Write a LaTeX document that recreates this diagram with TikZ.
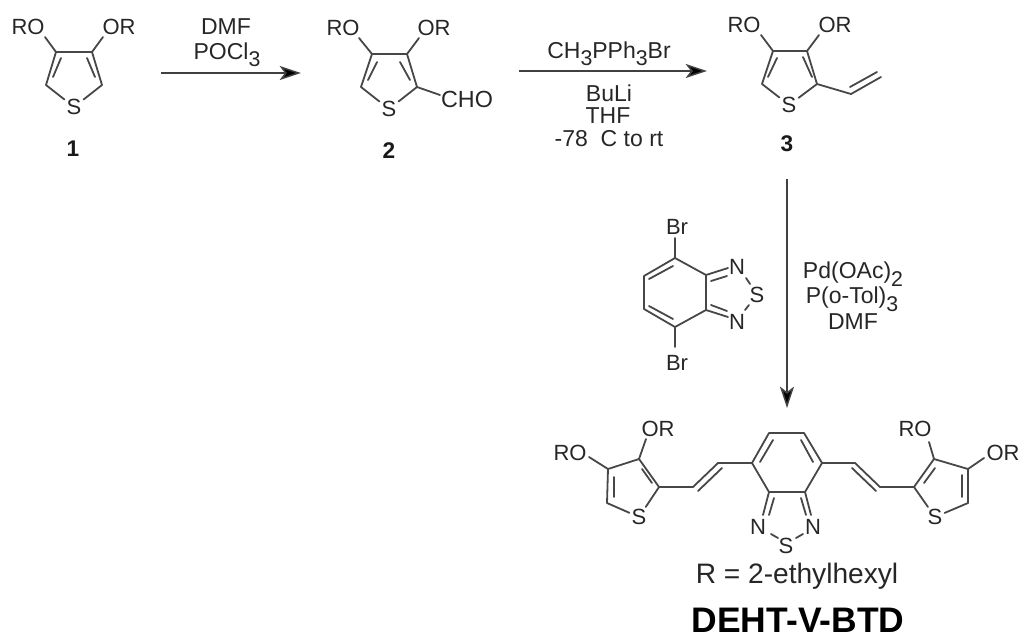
\documentclass[tikz,border=0pt]{standalone}
\usepackage{fontspec}
\setmainfont{Liberation Sans}
\usetikzlibrary{arrows.meta}
\newcommand{\subs}[1]{\smash{\raisebox{-0.32em}{\fontsize{16}{16}\selectfont #1}}}
\tikzset{
  bond/.style={draw=black!72,line width=1.35pt,line cap=round,line join=round},
  rxn/.style={draw=black!75,line width=1.15pt,-{Stealth[length=16pt,width=10.5pt,inset=4pt,fill=black]}},
  atom/.style={font=\fontsize{16.5}{18}\selectfont,text=black!85,inner sep=1.5pt},
  chogroup/.style={font=\fontsize{17.5}{18}\selectfont,text=black!85,inner sep=1.5pt},
  reagent/.style={font=\fontsize{17.25}{18}\selectfont,text=black!85,inner sep=0pt},
  cmpd/.style={font=\fontsize{17}{20}\selectfont\bfseries,text=black!90,inner sep=0pt},
  rdef/.style={font=\fontsize{21.1}{24}\selectfont,text=black!85,inner sep=0pt},
  title/.style={font=\fontsize{26.6}{30}\selectfont\bfseries,text=black,inner sep=0pt},
}
\begin{document}
\begin{tikzpicture}[x=0.75pt,y=-0.75pt]
\useasboundingbox (0,0) rectangle (1024,640);
% ---------- compound 1
\node[atom] (aRO) at (28,27) {RO};
\node[atom] (aOR) at (119,27) {OR};
\node[atom] (aS) at (74,107) {S};
\node[cmpd] (aL) at (73,149) {1};
\coordinate (a4) at (56,52); \coordinate (a3) at (92,52);
\coordinate (a5) at (46,85); \coordinate (a2) at (102,85);
\coordinate (aROb) at (45,37); \coordinate (aORb) at (103,37);
\coordinate (ai1) at (61,58); \coordinate (ai2) at (53,77);
\coordinate (ai3) at (87,58); \coordinate (ai4) at (95,77);
\draw[bond] (aROb) -- (a4) -- (a3) -- (aORb);
\draw[bond] (a4) -- (a5) -- (aS);
\draw[bond] (a3) -- (a2) -- (aS);
\draw[bond] (ai1) -- (ai2);
\draw[bond] (ai3) -- (ai4);
% arrow 1
\node[reagent] (r1a) at (226,27) {DMF};
\node[reagent] (r1b) at (227,51) {POCl\subs{3}};
\coordinate (w1s) at (161,73); \coordinate (w1e) at (301,73);
\draw[rxn] (w1s) -- (w1e);
% ---------- compound 2
\node[atom] (bRO) at (343,28) {RO};
\node[atom] (bOR) at (434,28) {OR};
\node[atom] (bS) at (389,109) {S};
\node[chogroup] (bCHO) at (467,99) {CHO};
\node[cmpd] (bL) at (389,151) {2};
\coordinate (b4) at (372,54); \coordinate (b3) at (407,54);
\coordinate (b5) at (361,87); \coordinate (b2) at (417,87);
\coordinate (bROb) at (359,38); \coordinate (bORb) at (419,38);
\coordinate (bCb) at (440,95);
\coordinate (bi1) at (377,62); \coordinate (bi2) at (368,80);
\coordinate (bi3) at (400,62); \coordinate (bi4) at (410,80);
\draw[bond] (bROb) -- (b4) -- (b3) -- (bORb);
\draw[bond] (b4) -- (b5) -- (bS);
\draw[bond] (b3) -- (b2) -- (bS);
\draw[bond] (b2) -- (bCb);
\draw[bond] (bi1) -- (bi2);
\draw[bond] (bi3) -- (bi4);
% arrow 2
\node[reagent] (r2a) at (609,50) {CH\subs{3}PPh\subs{3}Br};
\node[reagent] (r2b) at (609,93) {BuLi};
\node[reagent] (r2c) at (608,116) {THF};
\node[reagent] (r2d) at (609,139) {-78\ \ C to rt};
\coordinate (w2s) at (519,71); \coordinate (w2e) at (707,71);
\draw[rxn] (w2s) -- (w2e);
% ---------- compound 3
\node[atom] (cRO) at (744,25) {RO};
\node[atom] (cOR) at (835,25) {OR};
\node[atom] (cS) at (789,105) {S};
\node[cmpd] (cL) at (787,144) {3};
\coordinate (c4) at (773,51); \coordinate (c3) at (807,51);
\coordinate (c5) at (762,84); \coordinate (c2) at (817,84);
\coordinate (cROb) at (761,35); \coordinate (cORb) at (819,35);
\coordinate (cV1) at (851,94); \coordinate (cV2) at (881,77);
\coordinate (cVi1) at (850,87); \coordinate (cVi2) at (877,72);
\coordinate (ci1) at (777,58); \coordinate (ci2) at (768,77);
\coordinate (ci3) at (803,57); \coordinate (ci4) at (812,77);
\draw[bond] (cROb) -- (c4) -- (c3) -- (cORb);
\draw[bond] (c4) -- (c5) -- (cS);
\draw[bond] (c3) -- (c2) -- (cS);
\draw[bond] (c2) -- (cV1) -- (cV2);
\draw[bond] (cVi1) -- (cVi2);
\draw[bond] (ci1) -- (ci2);
\draw[bond] (ci3) -- (ci4);
% arrow 3
\node[reagent] (r3a) at (853,273) {Pd(OAc)\subs{2}};
\node[reagent] (r3b) at (852,298) {P(o-Tol)\subs{3}};
\node[reagent] (r3c) at (853,322) {DMF};
\coordinate (w3s) at (787,179); \coordinate (w3e) at (787,408);
\draw[rxn] (w3s) -- (w3e);
% ---------- dibromo-BTD
\node[atom] (dBr1) at (677,227) {Br};
\node[atom] (dBr2) at (677,363) {Br};
\node[atom,inner sep=0pt] (dN1) at (737,267) {N};
\node[atom,inner sep=0pt] (dN2) at (737,322) {N};
\node[atom,inner sep=0pt] (dS) at (757,295) {S};
\coordinate (d1) at (675,258); \coordinate (d2) at (644,276);
\coordinate (d3) at (644,309); \coordinate (d4) at (675,327);
\coordinate (d5) at (706,310); \coordinate (d6) at (706,275);
\coordinate (dBe1) at (675,238); \coordinate (dBe2) at (675,347);
\coordinate (dNe1) at (728,268); \coordinate (dNe2) at (728,317);
\coordinate (dNi1) at (711,281); \coordinate (dNi2) at (727,276);
\coordinate (dNi3) at (711,305); \coordinate (dNi4) at (727,311);
\coordinate (di1) at (649,279); \coordinate (di2) at (673,266);
\coordinate (di3) at (649,306); \coordinate (di4) at (673,319);
\coordinate (dSa) at (746,278); \coordinate (dSb) at (750,284);
\coordinate (dSc) at (749,305); \coordinate (dSd) at (745,310);
\draw[bond] (d1) -- (d2) -- (d3) -- (d4) -- (d5) -- (d6) -- cycle;
\draw[bond] (dBe1) -- (d1);
\draw[bond] (dBe2) -- (d4);
\draw[bond] (d6) -- (dNe1);
\draw[bond] (d5) -- (dNe2);
\draw[bond] (dNi1) -- (dNi2);
\draw[bond] (dNi3) -- (dNi4);
\draw[bond] (di1) -- (di2);
\draw[bond] (di3) -- (di4);
\draw[bond] (dSa) -- (dSb);
\draw[bond] (dSc) -- (dSd);
% ---------- product: core
\coordinate (p1) at (769,433); \coordinate (p2) at (804,433);
\coordinate (p3) at (822,463); \coordinate (p4) at (805,492);
\coordinate (p5) at (769,492); \coordinate (p6) at (752,463);
\node[atom,inner sep=0pt] (pN1) at (758,527) {N};
\node[atom,inner sep=0pt] (pN2) at (813,527) {N};
\node[atom,inner sep=0pt] (pS) at (786,546) {S};
\coordinate (pNe1) at (763,515); \coordinate (pNe2) at (811,515);
\coordinate (pNi1) at (774,498); \coordinate (pNi2) at (769,515);
\coordinate (pNi3) at (801,498); \coordinate (pNi4) at (806,515);
\coordinate (pi1) at (773,440); \coordinate (pi2) at (760,462);
\coordinate (pi3) at (801,440); \coordinate (pi4) at (813,462);
\coordinate (pSa) at (771,534); \coordinate (pSb) at (778,538);
\coordinate (pSc) at (803,534); \coordinate (pSd) at (796,538);
\draw[bond] (p1) -- (p2) -- (p3) -- (p4) -- (p5) -- (p6) -- cycle;
\draw[bond] (p5) -- (pNe1);
\draw[bond] (p4) -- (pNe2);
\draw[bond] (pNi1) -- (pNi2);
\draw[bond] (pNi3) -- (pNi4);
\draw[bond] (pi1) -- (pi2);
\draw[bond] (pi3) -- (pi4);
\draw[bond] (pSa) -- (pSb);
\draw[bond] (pSc) -- (pSd);
% product: left arm
\node[atom] (lRO) at (570,453) {RO};
\node[atom] (lOR) at (658,429) {OR};
\node[atom] (lS) at (639,517) {S};
\coordinate (lV1) at (718,463); \coordinate (lV2) at (693,487);
\coordinate (l2) at (659,487); \coordinate (l3) at (639,459);
\coordinate (l4) at (608,469); \coordinate (l5) at (607,503);
\coordinate (lVi1) at (722,468); \coordinate (lVi2) at (698,491);
\coordinate (li1) at (642,469); \coordinate (li2) at (652,483);
\coordinate (li3) at (614,477); \coordinate (li4) at (614,497);
\coordinate (lORb) at (646,439); \coordinate (lROb) at (589,457);
\draw[bond] (p6) -- (lV1) -- (lV2) -- (l2) -- (l3) -- (l4) -- (l5) -- (lS);
\draw[bond] (l2) -- (lS);
\draw[bond] (l3) -- (lORb);
\draw[bond] (l4) -- (lROb);
\draw[bond] (lVi1) -- (lVi2);
\draw[bond] (li1) -- (li2);
\draw[bond] (li3) -- (li4);
% product: right arm
\node[atom] (rRO) at (915,429) {RO};
\node[atom] (rOR) at (1003,453) {OR};
\node[atom] (rS) at (935,517) {S};
\coordinate (rV1) at (855,463); \coordinate (rV2) at (880,487);
\coordinate (r2) at (914,487); \coordinate (r3) at (934,459);
\coordinate (r4) at (968,469); \coordinate (r5) at (968,503);
\coordinate (rVi1) at (852,468); \coordinate (rVi2) at (876,491);
\coordinate (ri1) at (924,483); \coordinate (ri2) at (935,468);
\coordinate (ri3) at (962,475); \coordinate (ri4) at (962,497);
\coordinate (rROb) at (929,442); \coordinate (rORb) at (984,458);
\draw[bond] (p3) -- (rV1) -- (rV2) -- (r2) -- (r3) -- (r4) -- (r5) -- (rS);
\draw[bond] (r2) -- (rS);
\draw[bond] (r3) -- (rROb);
\draw[bond] (r4) -- (rORb);
\draw[bond] (rVi1) -- (rVi2);
\draw[bond] (ri1) -- (ri2);
\draw[bond] (ri3) -- (ri4);
% captions
\node[rdef] (rdef) at (797,576) {R = 2-ethylhexyl};
\node[title] (name) at (798,620) {DEHT-V-BTD};
\end{tikzpicture}
\end{document}
